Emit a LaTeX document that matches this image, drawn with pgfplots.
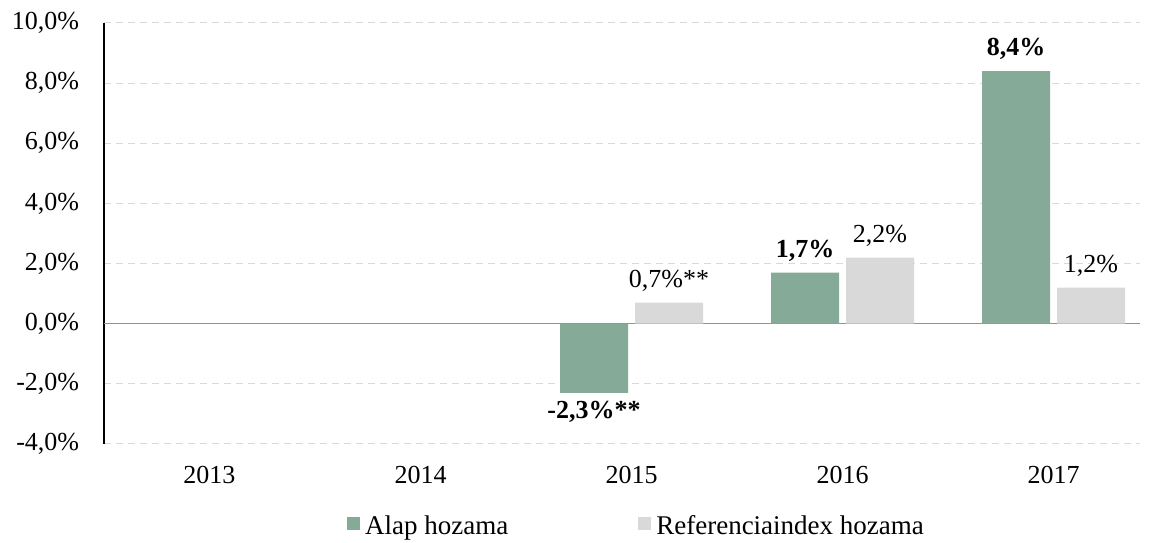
\documentclass[border=0pt]{standalone}
\usepackage{fontspec}
\setmainfont{Liberation Serif}
\usepackage{pgfplots}
\pgfplotsset{compat=1.18}
\definecolor{alap}{HTML}{86AA98}
\definecolor{refc}{HTML}{D9D9D9}
\newcommand{\fs}{\fontsize{26bp}{30bp}\selectfont}
\newcommand{\fl}{\fontsize{27bp}{31bp}\selectfont}
\begin{document}
\fs
\begin{tikzpicture}
\begin{axis}[
  name=ax,
  scale only axis, width=1036bp, height=421bp,
  ybar=7bp, bar width=68bp,
  xmin=-0.5, xmax=4.41, ymin=-4, ymax=10,
  axis lines=left,
  x axis line style={draw=none},
  y axis line style={-, black, line width=1.2bp},
  major tick length=0pt,
  xtick={0,1,2,3,4},
  xticklabels={2013,2014,2015,2016,2017},
  ytick={-4,-2,0,2,4,6,8,10},
  yticklabels={{-4,0\%},{-2,0\%},{0,0\%},{2,0\%},{4,0\%},{6,0\%},{8,0\%},{10,0\%}},
  yticklabel style={font=\fs, xshift=-16bp},
  xticklabel style={font=\fs, yshift=-13bp},
  ymajorgrids,
  grid style={refc, line width=1bp, dash pattern=on 7bp off 5bp},
  extra y ticks={0},
  extra y tick labels={},
  extra y tick style={grid style={solid, draw=gray!85, line width=1.2bp}},
  point meta=explicit symbolic,
  nodes near coords,
  every node near coord/.append style={font=\fs, anchor=south, inner ysep=11bp, yshift=0bp},
  legend style={at={(0.514,-0.197)}, anchor=center, draw=none, fill=none,
    legend columns=2, font=\fl,
    /tikz/every even column/.style={column sep=128bp}},
  legend image code/.code={\fill[#1,draw=none] (0bp,-3bp) rectangle (13bp,10bp); \path (16bp,0bp);},
]
\addplot[fill=alap, draw=none, every node near coord/.append style={font=\fs\bfseries}]
  coordinates {(2,-2.3)[] (3,1.7)[1,7\%] (4,8.4)[8,4\%]};
\addplot[fill=refc, draw=none]
  coordinates {(2,0.7)[0,7\%**] (3,2.2)[2,2\%] (4,1.2)[1,2\%]};
\legend{Alap hozama, Referenciaindex hozama}
\node[font=\fs\bfseries, anchor=north, inner ysep=8bp] at ([xshift=-37.5bp]axis cs:2,-2.3) {-2,3\%**};
\end{axis}
\pgfresetboundingbox
\path[use as bounding box] ([shift={(-104bp,-99bp)}]ax.south west) rectangle ([shift={(10bp,23bp)}]ax.north east);
\end{tikzpicture}
\end{document}
